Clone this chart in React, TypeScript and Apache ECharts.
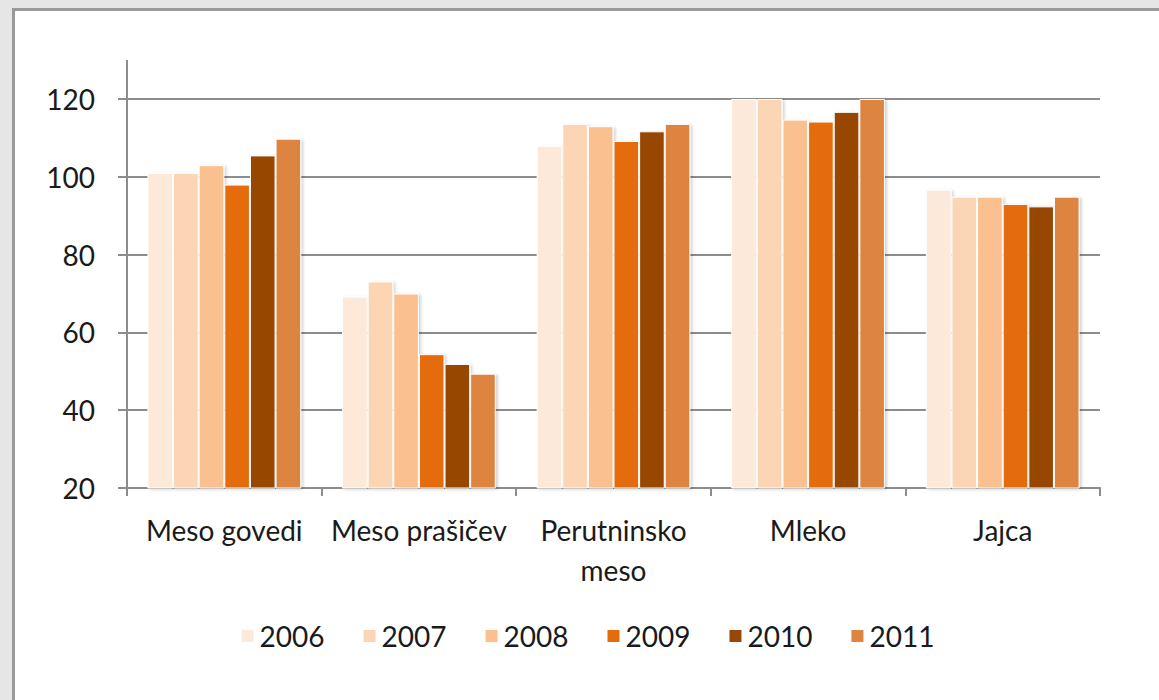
import React, { useEffect, useRef } from "react";
import * as echarts from "echarts";

const categories = ["Meso govedi", "Meso prašičev", "Perutninsko\nmeso", "Mleko", "Jajca"];
const years = ["2006", "2007", "2008", "2009", "2010", "2011"];
const values2006 = [101, 69.2, 108, 120, 96.7];
const values2007 = [101, 73.1, 113.6, 120, 94.9];
const values2008 = [103, 70, 113, 114.7, 94.9];
const values2009 = [98, 54.4, 109.2, 114.2, 93];
const values2010 = [105.5, 51.9, 111.7, 116.7, 92.4];
const values2011 = [109.8, 49.4, 113.6, 120, 94.9];
const yTicks = [20, 40, 60, 80, 100, 120];
const colors = ["#FDE9D9", "#FCD5B4", "#FAC090", "#E46C0A", "#974706", "#DC8440"];

const seriesValues = [values2006, values2007, values2008, values2009, values2010, values2011];

export default function App() {
  const ref = useRef<HTMLDivElement>(null);
  useEffect(() => {
    if (!ref.current) return;
    const chart = echarts.init(ref.current, undefined, { renderer: "svg" });
    const font = "Lato, 'Open Sans', sans-serif";
    chart.setOption({
      animation: false,
      backgroundColor: "transparent",
      textStyle: { fontFamily: font },
      grid: { left: 112, right: 59, top: 88, bottom: 212, containLabel: false },
      legend: {
        data: years,
        top: 606,
        left: "center",
        itemWidth: 14,
        itemHeight: 14,
        itemGap: 37,
        icon: "rect",
        textStyle: { fontFamily: font, fontSize: 28, color: "#1a1a1a" },
      },
      xAxis: {
        type: "category",
        data: categories,
        axisLine: { lineStyle: { color: "#8c8c8c", width: 2 } },
        axisTick: { show: true, length: 8, lineStyle: { color: "#8c8c8c", width: 2 } },
        axisLabel: {
          fontFamily: font,
          fontSize: 28,
          color: "#1a1a1a",
          margin: 22,
          lineHeight: 40,
          interval: 0,
        },
      },
      yAxis: {
        type: "value",
        min: yTicks[0],
        max: yTicks[yTicks.length - 1],
        interval: 20,
        axisLine: { show: true, lineStyle: { color: "#8c8c8c", width: 2 } },
        axisTick: { show: true, length: 9, lineStyle: { color: "#8c8c8c", width: 2 } },
        splitLine: { show: true, lineStyle: { color: "#8c8c8c", width: 2 } },
        axisLabel: { fontFamily: font, fontSize: 28, color: "#1a1a1a", margin: 32 },
      },
      graphic: [
        {
          type: "line",
          shape: { x1: 112, y1: 49, x2: 112, y2: 88 },
          style: { stroke: "#8c8c8c", lineWidth: 2 },
        },
      ],
      series: years.map((y, i) => ({
        name: y,
        type: "bar",
        data: seriesValues[i],
        barGap: "0%",
        barCategoryGap: "21%",
        itemStyle: {
          color: colors[i],
          borderColor: "#ffffff",
          borderWidth: 1,
          shadowColor: "rgba(0,0,0,0.18)",
          shadowBlur: 3,
          shadowOffsetX: 2,
          shadowOffsetY: 1,
        },
      })),
    });
    return () => chart.dispose();
  }, []);
  return (
    <div style={{ position: "fixed", inset: 0, background: "#e6e6e6" }}>
      <div
        style={{
          position: "absolute",
          left: 12,
          top: 8,
          width: 1180,
          height: 720,
          background: "#ffffff",
          borderLeft: "3px solid #9a9a9a",
          borderTop: "3px solid #9a9a9a",
        }}
      >
        <div ref={ref} style={{ width: 1144, height: 689 }} />
      </div>
    </div>
  );
}
